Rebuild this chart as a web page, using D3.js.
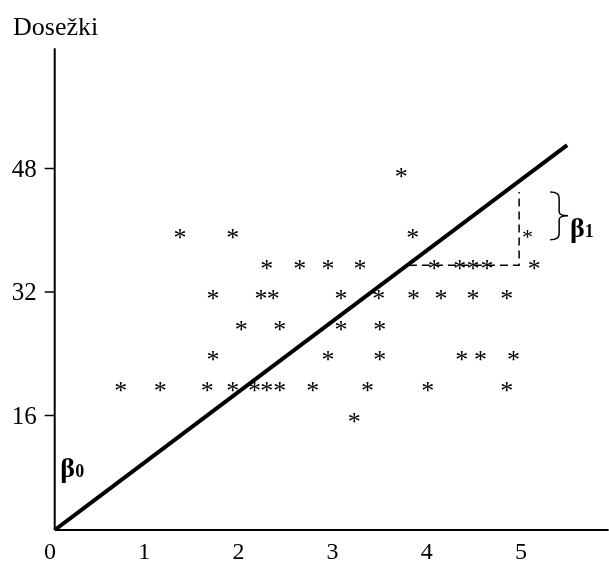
<!DOCTYPE html>
<html><head><meta charset="utf-8">
<script src="https://cdn.jsdelivr.net/npm/d3@7"></script>
<style>body{margin:0;background:#fff} svg{will-change:transform}</style>
</head><body>
<svg id="c" width="609" height="563"></svg>
<script>
// ---- data ----
const xTicks = [0, 1, 2, 3, 4, 5];
const yTicks = [16, 32, 48];
const yTitle = "Dosežki";
// asterisk points (x, y)
const pointsX = [
  0.75, 1.17, 1.67, 1.94, 2.17, 2.30, 2.44, 2.79, 3.37, 4.01, 4.85,
  1.73, 2.95, 3.50, 4.37, 4.57, 4.92,
  2.03, 2.44, 3.09, 3.50,
  1.73, 2.24, 2.37, 3.09, 3.49, 3.86, 4.15, 4.49, 4.85,
  2.30, 2.65, 2.95, 3.29, 4.08, 4.35, 4.49, 4.64, 5.14,
  1.38, 1.94, 3.85,
  3.73, 3.23
];
const pointsY = [
  19.6, 19.6, 19.6, 19.6, 19.6, 19.6, 19.6, 19.6, 19.6, 19.6, 19.6,
  23.6, 23.6, 23.6, 23.6, 23.6, 23.6,
  27.5, 27.5, 27.5, 27.5,
  31.5, 31.5, 31.5, 31.5, 31.5, 31.5, 31.5, 31.5, 31.5,
  35.4, 35.4, 35.4, 35.4, 35.4, 35.4, 35.4, 35.4, 35.4,
  39.5, 39.5, 39.5,
  47.3, 15.6
];
const smallPoint = [5.07, 39.4];
const regLine = [[0.05, 1.1], [5.49, 50.97]];
const axisOrigin = [0.05, 1.1];
const axisEnd = [5.93, 63.5];
const slopeRun = [[3.81, 35.4], [4.98, 35.4], [4.98, 44.9]];
const brace = [5.31, 5.5, 44.9, 38.7];

// ---- scales ----
const x = d3.scaleLinear().domain([0, 5]).range([50, 521]);
const y = d3.scaleLinear().domain([16, 48]).range([415, 168]);

const svg = d3.select("#c");
const serif = "'Liberation Serif','Times New Roman',serif";

// axes lines
svg.append("line")
  .attr("x1", x(axisOrigin[0])).attr("x2", x(axisOrigin[0]))
  .attr("y1", y(axisOrigin[1])).attr("y2", y(axisEnd[1]))
  .attr("stroke", "#000").attr("stroke-width", 2);
svg.append("line")
  .attr("x1", x(axisOrigin[0])).attr("x2", x(axisEnd[0]))
  .attr("y1", y(axisOrigin[1])).attr("y2", y(axisOrigin[1]))
  .attr("stroke", "#000").attr("stroke-width", 2);

// y ticks
const yAxis = d3.axisLeft(y).tickValues(yTicks).tickSize(10).tickPadding(8);
const gy = svg.append("g").attr("transform", `translate(${x(axisOrigin[0])},0)`).call(yAxis);
gy.select(".domain").remove();
gy.selectAll(".tick line").attr("stroke-width", 1.5);
gy.selectAll("text").attr("font-family", serif).attr("font-size", 25).attr("fill", "#000");

// x labels
svg.selectAll(".xl").data(xTicks).join("text")
  .attr("x", d => x(d)).attr("y", 559)
  .attr("text-anchor", "middle")
  .attr("font-family", serif).attr("font-size", 24).attr("fill", "#000")
  .text(d => d);

// title
svg.append("text").attr("x", 13).attr("y", 35)
  .attr("font-family", serif).attr("font-size", 26).attr("fill", "#000").text(yTitle);

// regression line
svg.append("line")
  .attr("x1", x(regLine[0][0])).attr("y1", y(regLine[0][1]))
  .attr("x2", x(regLine[1][0])).attr("y2", y(regLine[1][1]))
  .attr("stroke", "#000").attr("stroke-width", 4);

// dashed run/rise
svg.append("path")
  .attr("d", d3.line().x(d => x(d[0])).y(d => y(d[1]))(slopeRun))
  .attr("fill", "none").attr("stroke", "#000").attr("stroke-width", 1.5)
  .attr("stroke-dasharray", "8,5");

// asterisks
const pts = pointsX.map((v, i) => [v, pointsY[i]]);
svg.selectAll(".pt").data(pts).join("text")
  .attr("x", d => x(d[0])).attr("y", d => y(d[1]))
  .attr("dy", 12)
  .attr("text-anchor", "middle")
  .attr("font-family", serif).attr("font-size", 26).attr("fill", "#000")
  .text("*");
svg.append("text")
  .attr("x", x(smallPoint[0])).attr("y", y(smallPoint[1])).attr("dy", 10)
  .attr("text-anchor", "middle")
  .attr("font-family", serif).attr("font-size", 22).attr("fill", "#000").text("*");

// brace
const bx0 = x(brace[0]), bx1 = x(brace[1]), by0 = y(brace[2]), by1 = y(brace[3]);
const bm = (by0 + by1) / 2, bxm = (bx0 + bx1) / 2;
svg.append("path")
  .attr("d", `M${bx0},${by0} Q${bxm},${by0} ${bxm},${by0 + 6} L${bxm},${bm - 4} Q${bxm},${bm} ${bx1},${bm} Q${bxm},${bm} ${bxm},${bm + 4} L${bxm},${by1 - 6} Q${bxm},${by1} ${bx0},${by1}`)
  .attr("fill", "none").attr("stroke", "#000").attr("stroke-width", 1.5);

// beta labels
const b1 = svg.append("text").attr("x", x(5.52)).attr("y", y(39.05))
  .attr("font-family", serif).attr("font-weight", "bold").attr("font-size", 28).attr("fill", "#000");
b1.append("tspan").text("β");
b1.append("tspan").attr("font-size", 18).text("1");
const b0 = svg.append("text").attr("x", x(0.11)).attr("y", y(8.0))
  .attr("font-family", serif).attr("font-weight", "bold").attr("font-size", 28).attr("fill", "#000");
b0.append("tspan").text("β");
b0.append("tspan").attr("font-size", 18).text("0");
</script>
</body></html>
